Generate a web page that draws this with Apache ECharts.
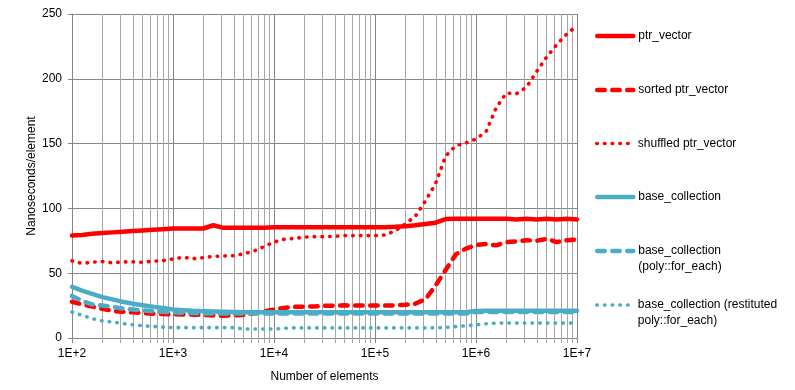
<!DOCTYPE html>
<html>
<head>
<meta charset="utf-8">
<script src="https://cdn.jsdelivr.net/npm/echarts@6/dist/echarts.min.js"></script>
<style>
html,body{margin:0;padding:0;background:#fff;}
#chart{width:795px;height:390px;}
</style>
</head>
<body>
<div id="chart"></div>
<script>
// Number of elements (x positions of the measurements)
const sizes = [100, 126, 158, 200, 251, 316, 398, 501, 631, 794,
  1000, 1259, 1585, 1995, 2512, 3162, 3981, 5012, 6310, 7943,
  10000, 12589, 15849, 19953, 25119, 31623, 39811, 50119, 63096, 79433,
  100000, 125893, 158489, 199526, 251189, 316228, 398107, 501187, 630957, 794328,
  1000000, 1258925, 1584893, 1995262, 2511886, 3162278, 3981072, 5011872, 6309573, 7943282,
  10000000];

const seriesNames = ['ptr_vector', 'sorted ptr_vector', 'shuffled ptr_vector',
  'base_collection', 'base_collection (poly::for_each)', 'base_collection (restituted poly::for_each)'];

const ptrVector = [79, 79.5, 80.5, 81, 81.5, 82, 82.5, 83, 83.5, 84,
  84.5, 84.5, 84.5, 84.5, 87, 85, 85, 85, 85, 85,
  85.5, 85.5, 85.5, 85.5, 85.5, 85.5, 85.5, 85.5, 85.5, 85.5,
  85.5, 85.5, 85.8, 86.3, 87, 88, 89, 91.8, 92, 92,
  92, 92, 92, 92, 91.5, 92, 91.5, 92, 91.5, 92,
  91.5];

const sortedPtrVector = [28, 26, 24.3, 22.5, 21, 20.2, 19.8, 19.3, 18.8, 18.5,
  18.3, 18.2, 18, 17.8, 17.4, 17.2, 17.5, 17.8, 19, 20.5,
  22, 23.2, 24, 24.2, 24.3, 24.8, 25, 25.2, 25, 25,
  25, 25, 25.2, 25.6, 26.5, 30, 40.5, 52.5, 64.5, 69,
  71.8, 72.5, 71.5, 74, 74.5, 75.5, 75, 76.5, 74, 75.5,
  76];

const shuffledPtrVector = [59.5, 57.5, 58.5, 59, 58, 58.7, 58.8, 58.4, 59.3, 59.7,
  61, 62.3, 61.2, 62, 63, 63.3, 63.5, 65, 67, 70.5,
  74, 76.2, 76.8, 77.8, 78.2, 78.2, 78.5, 79, 79, 79,
  79, 79.5, 82.6, 88, 94, 105.8, 119.2, 140.5, 148.4, 150.5,
  153.5, 159.3, 177.6, 189, 188.5, 193.5, 205.6, 216.8, 226.4, 234.7,
  241];

const baseCollection = [39.5, 36.5, 34, 31.5, 29.8, 28, 26.5, 25.3, 24.2, 23.2,
  22, 21.5, 21, 20.7, 20.4, 20.2, 20, 19.8, 19.8, 19.8,
  19.8, 19.8, 19.8, 19.8, 19.8, 19.8, 19.8, 19.8, 19.8, 19.8,
  19.8, 19.8, 19.8, 19.8, 19.8, 19.8, 19.8, 19.8, 19.8, 19.8,
  20.8, 21, 21, 21, 21, 21, 21, 21, 21, 21,
  21];

const polyForEach = [32.5, 28.5, 26, 25, 24, 22.8, 22, 21.3, 20.7, 20.2,
  19.8, 19.5, 19.2, 19, 19, 19, 19, 19, 19, 19,
  19, 19, 19, 19, 19, 19, 19, 19, 19, 19,
  19, 19, 19, 19, 19, 19, 19, 19, 19, 19,
  20, 20, 20, 20, 20, 20, 20, 20, 20, 20,
  20];

const restitutedPolyForEach = [20, 17.5, 15, 13.1, 12.4, 11.2, 10.2, 9.5, 8.9, 8.4,
  8, 8, 8, 8, 8, 8, 8, 7, 6.9, 6.9,
  6.9, 7.5, 7.8, 7.8, 7.8, 7.8, 7.8, 7.8, 7.8, 7.8,
  7.8, 7.8, 7.8, 7.8, 7.8, 7.8, 7.8, 8.2, 8.8, 9.4,
  10.2, 11, 11.5, 11.5, 11.5, 11.5, 11.5, 11.5, 11.5, 11.5,
  11.5];

const yTicks = [0, 50, 100, 150, 200, 250];

const allValues = [ptrVector, sortedPtrVector, shuffledPtrVector, baseCollection, polyForEach, restitutedPolyForEach];

const RED = '#FF0000';
const CYAN = '#4BACC6';
const styles = [
  {color: RED, width: 4.5, type: 'solid'},
  {color: RED, width: 4.5, type: [7.5, 7.5]},
  {color: RED, width: 3.6, type: [0.5, 7.2]},
  {color: CYAN, width: 4.5, type: 'solid'},
  {color: CYAN, width: 4.5, type: [7.5, 7.5]},
  {color: CYAN, width: 3.6, type: [0.5, 7.2]}
];

const legendLabels = [
  'ptr_vector',
  'sorted ptr_vector',
  'shuffled ptr_vector',
  'base_collection',
  ' \nbase_collection\n(poly::for_each)',
  ' \nbase_collection (restituted\npoly::for_each)'
];
const legendCenters = [36, 90, 143.5, 197, 251, 305];

const font = 'Liberation Sans, Arial, sans-serif';

const chart = echarts.init(document.getElementById('chart'), null, {renderer: 'canvas'});

const series = seriesNames.map((name, i) => ({
  name: name,
  type: 'line',
  symbol: 'none',
  showSymbol: false,
  animation: false,
  data: sizes.map((s, j) => [s, allValues[i][j]]),
  lineStyle: {color: styles[i].color, width: styles[i].width, type: styles[i].type, cap: 'round', join: 'round'},
  itemStyle: {color: styles[i].color},
  emphasis: {disabled: true}
}));

const legends = seriesNames.map((name, i) => {
  const multi = legendLabels[i].indexOf('\n') >= 0;
  return {
    data: [name],
    left: 595,
    top: legendCenters[i] - (multi ? 24 : 8),
    orient: 'vertical',
    padding: 0,
    itemWidth: 36,
    itemHeight: 14,
    selectedMode: false,
    itemStyle: {opacity: 0, borderWidth: 0},
    lineStyle: {color: styles[i].color, width: styles[i].width, type: styles[i].type, cap: 'round', opacity: 1},
    formatter: () => legendLabels[i],
    textStyle: {fontFamily: font, fontSize: 12, color: '#000', lineHeight: 16}
  };
});

chart.setOption({
  animation: false,
  backgroundColor: '#fff',
  textStyle: {fontFamily: font},
  grid: {left: 72, right: 218, top: 14, bottom: 52, containLabel: false, outerBoundsMode: 'none'},
  legend: legends,
  xAxis: {
    type: 'log',
    logBase: 10,
    min: 100,
    max: 10000000,
    name: 'Number of elements',
    nameLocation: 'middle',
    nameGap: 33,
    nameMoveOverlap: false,
    nameTextStyle: {fontFamily: font, fontSize: 12, color: '#000'},
    axisLine: {show: true, lineStyle: {color: '#868686', width: 1}},
    axisTick: {show: true, length: 5, inside: false, lineStyle: {color: '#868686'}},
    minorTick: {show: true, splitNumber: 9, length: 5, lineStyle: {color: '#A6A6A6'}},
    axisLabel: {
      fontFamily: font, fontSize: 12, color: '#000', margin: 10,
      formatter: v => '1E+' + Math.round(Math.log10(v))
    },
    splitLine: {show: true, lineStyle: {color: '#868686', width: 1}},
    minorSplitLine: {show: true, lineStyle: {color: '#A6A6A6', width: 1}}
  },
  yAxis: {
    type: 'value',
    min: yTicks[0],
    max: yTicks[yTicks.length - 1],
    interval: 50,
    name: 'Nanoseconds/element',
    nameLocation: 'middle',
    nameGap: 34,
    nameMoveOverlap: false,
    nameTextStyle: {fontFamily: font, fontSize: 12, color: '#000'},
    axisLine: {show: true, lineStyle: {color: '#868686', width: 1}},
    axisTick: {show: true, length: 4, inside: false, lineStyle: {color: '#868686'}},
    axisLabel: {fontFamily: font, fontSize: 12, color: '#000', margin: 10},
    splitLine: {show: true, lineStyle: {color: '#868686', width: 1}}
  },
  series: series
});
</script>
</body>
</html>
